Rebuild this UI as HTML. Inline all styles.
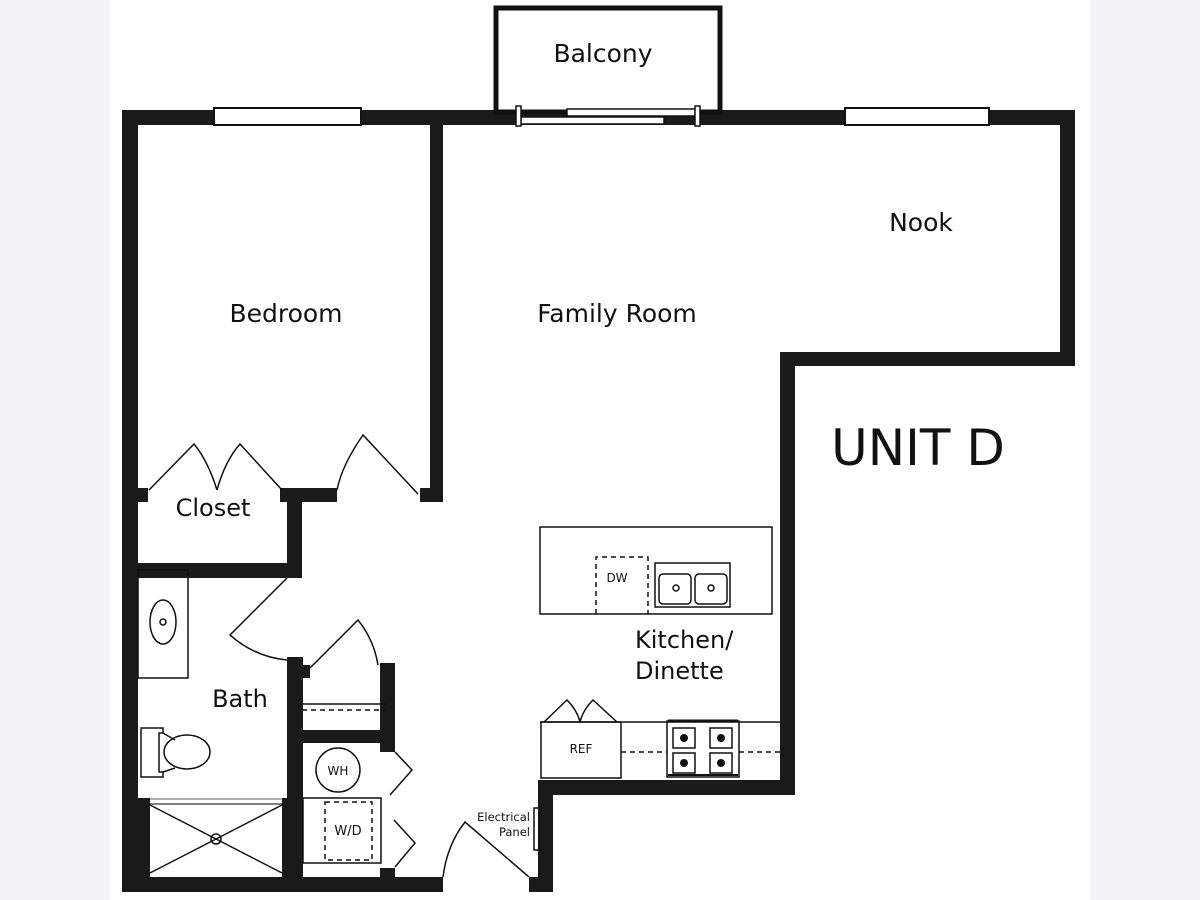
<!DOCTYPE html>
<html><head><meta charset="utf-8"><style>
html,body{margin:0;padding:0;background:#f4f3f6;}
svg{display:block}
text{font-family:"DejaVu Sans","Liberation Sans",sans-serif;fill:#111}
</style></head><body>
<svg width="1200" height="900" viewBox="0 0 1200 900" xmlns="http://www.w3.org/2000/svg">
<rect x="0" y="0" width="1200" height="900" fill="#f4f3f6"/>
<rect x="110" y="0" width="980" height="900" fill="#fff"/>
<g fill="#1a1a1a">
<!-- top wall -->
<rect x="122" y="110" width="953" height="15"/>
<!-- left wall -->
<rect x="122" y="110" width="16" height="782"/>
<!-- nook right -->
<rect x="1060" y="110" width="15" height="256"/>
<rect x="780" y="352" width="295" height="14"/>
<rect x="780" y="352" width="15" height="443"/>
<rect x="538" y="780" width="257" height="15"/>
<rect x="538" y="780" width="15" height="112"/>
<rect x="529" y="877" width="24" height="15"/>
<!-- bottom -->
<rect x="122" y="877" width="321" height="15"/>
<!-- bedroom divider -->
<rect x="430" y="125" width="13" height="377"/>
<rect x="420" y="488" width="23" height="14"/>
<rect x="138" y="488" width="10" height="14"/>
<rect x="280" y="488" width="57" height="14"/>
<rect x="287" y="488" width="15" height="90"/>
<rect x="138" y="563" width="164" height="15"/>
<!-- bath -->
<rect x="287" y="657" width="16" height="235"/>
<rect x="303" y="665" width="7" height="13"/>
<rect x="380" y="663" width="15" height="89"/>
<rect x="302" y="730" width="93" height="13"/>
<rect x="380" y="868" width="15" height="12"/>
<rect x="138" y="798" width="12" height="80"/>
<rect x="282" y="798" width="6" height="80"/>
</g>
<g fill="none" stroke="#111" stroke-width="1.5">
<!-- windows -->
<rect x="214" y="108" width="147" height="17" fill="#fff" stroke-width="2"/>
<rect x="845" y="108" width="144" height="17" fill="#fff" stroke-width="2"/>
<!-- balcony -->
<rect x="496" y="8" width="224" height="104" stroke-width="5"/>
<rect x="567" y="109" width="130" height="7" fill="#fff"/>
<rect x="520" y="117" width="144" height="7" fill="#fff"/>
<rect x="516" y="106" width="5" height="20" fill="#fff"/>
<rect x="695" y="106" width="5" height="20" fill="#fff"/>
<!-- closet doors -->
<path d="M149 490 L194 444 Q208 461 217 490 M217 490 Q225 461 240 444 L282 490"/>
<path d="M337 490 Q342 465 363 435 L418 494"/>
<!-- bath door -->
<path d="M287 578 L230 635 Q255 657 287 660"/>
<!-- linen door -->
<path d="M310 668 L358 620 Q374 640 378 665"/>
<line x1="302" y1="704" x2="386" y2="704"/>
<line x1="302" y1="710" x2="386" y2="710" stroke-dasharray="5,4"/>
<!-- laundry doors -->
<path d="M395 752 L412 770 L390 795"/>
<path d="M394 820 L415 843 L395 867"/>
<!-- entry door -->
<path d="M443 877 Q447 845 465 822 L529 877"/>
<rect x="534" y="808" width="5" height="42"/>
<!-- vanity -->
<rect x="138" y="570" width="50" height="108"/>
<ellipse cx="163" cy="622" rx="13" ry="22"/>
<circle cx="163" cy="622" r="3"/>
<!-- toilet -->
<path d="M141 728 H163 V733 H159 V772 H163 V777 H141 Z"/>
<path d="M163 733 L175 740 M163 772 L175 768"/>
<ellipse cx="187" cy="752" rx="23" ry="17"/>
<!-- shower -->
<line x1="150" y1="799" x2="282" y2="799" stroke="#999"/>
<line x1="150" y1="804" x2="282" y2="804" stroke="#555"/>
<path d="M150 805 L282 873 M150 873 L282 805"/>
<circle cx="216" cy="839" r="5"/>
<!-- WH / WD -->
<circle cx="338" cy="770" r="22"/>
<rect x="303" y="798" width="78" height="65"/>
<rect x="325" y="802" width="47" height="58" stroke-dasharray="5,4"/>
<!-- island -->
<rect x="540" y="527" width="232" height="87"/>
<path d="M596 614 V557 H648 V614" stroke-dasharray="5,4"/>
<rect x="655" y="563" width="75" height="44"/>
<rect x="659" y="574" width="32" height="30" rx="4"/>
<rect x="695" y="574" width="32" height="30" rx="4"/>
<circle cx="676" cy="588" r="3"/><circle cx="711" cy="588" r="3"/>
<!-- counter -->
<line x1="540" y1="722" x2="780" y2="722"/>
<rect x="541" y="722" width="80" height="56"/>
<path d="M544 722 L567 700 Q577 710 580 722 Q583 710 593 700 L617 722"/>
<line x1="621" y1="752" x2="667" y2="752" stroke-dasharray="5,4"/>
<line x1="739" y1="752" x2="780" y2="752" stroke-dasharray="5,4"/>
<rect x="667" y="721" width="72" height="56"/>
<line x1="668" y1="721" x2="738" y2="721" stroke-width="3"/>
<line x1="668" y1="775" x2="738" y2="775" stroke-width="2"/>
<rect x="673" y="728" width="22" height="20"/><rect x="710" y="728" width="22" height="20"/>
<rect x="673" y="753" width="22" height="20"/><rect x="710" y="753" width="22" height="20"/>
</g>
<g fill="#111">
<circle cx="684" cy="738" r="4"/><circle cx="721" cy="738" r="4"/>
<circle cx="684" cy="763" r="4"/><circle cx="721" cy="763" r="4"/>
</g>
<text x="603" y="62" font-size="25" text-anchor="middle">Balcony</text>
<text x="286" y="322" font-size="25" text-anchor="middle">Bedroom</text>
<text x="617" y="322" font-size="25" text-anchor="middle">Family Room</text>
<text x="921" y="231" font-size="25" text-anchor="middle">Nook</text>
<text x="918" y="465" font-size="50" text-anchor="middle">UNIT D</text>
<text x="213" y="516" font-size="24" text-anchor="middle">Closet</text>
<text x="240" y="707" font-size="24" text-anchor="middle">Bath</text>
<text x="635" y="648" font-size="24">Kitchen/</text>
<text x="635" y="679" font-size="24">Dinette</text>
<text x="338" y="775" font-size="12" text-anchor="middle">WH</text>
<text x="348" y="835" font-size="13" text-anchor="middle">W/D</text>
<text x="617" y="582" font-size="12" text-anchor="middle">DW</text>
<text x="581" y="753" font-size="12" text-anchor="middle">REF</text>
<text x="530" y="821" font-size="11.5" text-anchor="end">Electrical</text>
<text x="530" y="836" font-size="11.5" text-anchor="end">Panel</text>
</svg>
</body></html>
